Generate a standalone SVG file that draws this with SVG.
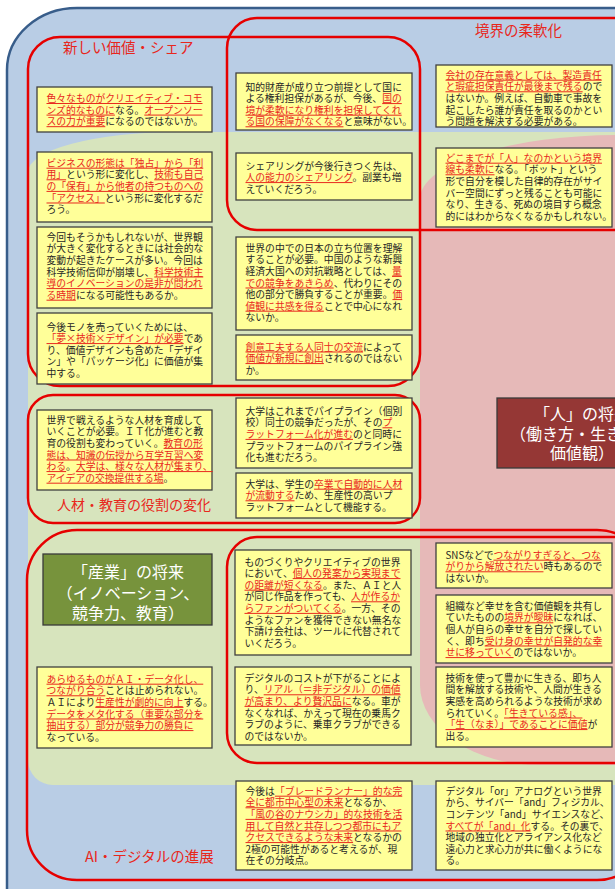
<svg xmlns="http://www.w3.org/2000/svg" width="615" height="889" viewBox="0 0 615 889">
<style>
.bx{fill:#ffff99;stroke:#404040;stroke-width:1.3}
.t{font-family:"Noto Sans CJK JP","Noto Sans CJK SC",sans-serif;font-size:9.8px;fill:#262626}
.r{fill:#e8271c;text-decoration:underline}
.rb{fill:none;stroke:#e60000;stroke-width:2.5}
.lb{font-family:"Noto Sans CJK JP","Noto Sans CJK SC",sans-serif;font-size:14.5px;fill:#e8271c}
.tt{font-family:"Noto Sans CJK JP","Noto Sans CJK SC",sans-serif;font-size:16px;fill:#ffffff;text-anchor:middle}
.tb{stroke:#3a3a3a;stroke-width:1.3}
</style>
<rect width="615" height="889" fill="#ffffff"/>
<g id="background">
<path d="M7 900V70A70 62 0 0 1 77 8H640V900Z" fill="#b9cde5" stroke="#385d8a" stroke-width="2.5"/>
<path d="M28 172A150 40 0 0 1 178 132H640V785H53A25 25 0 0 1 28 760Z" fill="#d7e4bd"/>
<path d="M420 199A200 64 0 0 1 620 135H640V765H540A120 80 0 0 1 420 685Z" fill="#e6b9b8"/>
</g>
<g id="groups">
<rect class="rb" x="28" y="37" width="392" height="349" rx="32"/>
<rect class="rb" x="227" y="18" width="420" height="212" rx="30"/>
<rect class="rb" x="28" y="395" width="392" height="128" rx="25"/>
<rect class="rb" x="27" y="530" width="620" height="350" rx="50"/>
<rect class="rb" x="227" y="537" width="420" height="226" rx="30"/>
<text class="lb" x="63" y="53">新しい価値・シェア</text>
<text class="lb" x="475" y="36">境界の柔軟化</text>
<text class="lb" x="57" y="510" style="font-size:14px">人材・教育の役割の変化</text>
<text class="lb" x="85" y="862">AI・デジタルの進展</text>
</g>
<g id="connectors"></g>
<g id="title-industry">
<rect class="tb" x="43" y="554" width="169" height="71" fill="#77933c"/>
<text class="tt"><tspan x="128" y="578">「産業」の将来</tspan><tspan x="128" y="599">（イノベーション、</tspan><tspan x="128" y="619">競争力、教育）</tspan></text>
</g>
<g id="title-people">
<rect class="tb" x="497" y="398" width="200" height="70" fill="#953735"/>
<text class="tt"><tspan x="582" y="420">「人」の将来</tspan><tspan x="582" y="440">（働き方・生き方、</tspan><tspan x="582" y="459">価値観）</tspan></text>
</g>
<g id="b1">
<rect class="bx" x="37" y="87" width="175" height="45"/>
<text class="t"><tspan x="46.5" y="102"><tspan class="r">色々なものがクリエイティブ・コモ</tspan></tspan><tspan x="46.5" y="113.6"><tspan class="r">ンズ的なものに</tspan>なる。<tspan class="r">オープンソー</tspan></tspan><tspan x="46.5" y="125.2"><tspan class="r">スの力が重要</tspan>になるのではないか。</tspan></text>
</g>
<g id="b2">
<rect class="bx" x="37" y="152" width="175" height="70"/>
<text class="t"><tspan x="46.5" y="166.7"><tspan class="r">ビジネスの形態は「独占」から「利</tspan></tspan><tspan x="46.5" y="178.3"><tspan class="r">用」</tspan>という形に変化し、<tspan class="r">技術も自己</tspan></tspan><tspan x="46.5" y="189.9"><tspan class="r">の「保有」から他者の持つものへの</tspan></tspan><tspan x="46.5" y="201.5"><tspan class="r">「アクセス」</tspan>という形に変化するだ</tspan><tspan x="46.5" y="213.1">ろう。</tspan></text>
</g>
<g id="b3">
<rect class="bx" x="37" y="227" width="175" height="81"/>
<text class="t"><tspan x="46.5" y="240.7">今回もそうかもしれないが、世界観</tspan><tspan x="46.5" y="252.3">が大きく変化するときには社会的な</tspan><tspan x="46.5" y="263.9">変動が起きたケースが多い。今回は</tspan><tspan x="46.5" y="275.5">科学技術信仰が崩壊し、<tspan class="r">科学技術主</tspan></tspan><tspan x="46.5" y="287.1"><tspan class="r">導のイノベーションの是非が問われ</tspan></tspan><tspan x="46.5" y="298.7"><tspan class="r">る時期</tspan>になる可能性もあるか。</tspan></text>
</g>
<g id="b4">
<rect class="bx" x="37" y="313" width="175" height="71"/>
<text class="t"><tspan x="46.5" y="330.5">今後モノを売っていくためには、</tspan><tspan x="46.5" y="342.1"><tspan class="r">「夢×技術×デザイン」が必要</tspan>であ</tspan><tspan x="46.5" y="353.7">り、価値デザインも含めた「デザイ</tspan><tspan x="46.5" y="365.3">ン」や「パッケージ化」に価値が集</tspan><tspan x="46.5" y="376.9">中する。</tspan></text>
</g>
<g id="b5">
<rect class="bx" x="236" y="73" width="176" height="57"/>
<text class="t"><tspan x="245.5" y="90.5">知的財産が成り立つ前提として国に</tspan><tspan x="245.5" y="102.1">よる権利担保があるが、今後、<tspan class="r">国の</tspan></tspan><tspan x="245.5" y="113.7"><tspan class="r">境が柔軟になり権利を担保してくれ</tspan></tspan><tspan x="245.5" y="125.3"><tspan class="r">る国の保障がなくなる</tspan>と意味がない。</tspan></text>
</g>
<g id="b6">
<rect class="bx" x="236" y="153" width="176" height="47"/>
<text class="t"><tspan x="245.5" y="169.5">シェアリングが今後行きつく先は、</tspan><tspan x="245.5" y="181.1"><tspan class="r">人の能力のシェアリング</tspan>。副業も増</tspan><tspan x="245.5" y="192.7">えていくだろう。</tspan></text>
</g>
<g id="b7">
<rect class="bx" x="236" y="237" width="176" height="93"/>
<text class="t"><tspan x="245.5" y="251.7">世界の中での日本の立ち位置を理解</tspan><tspan x="245.5" y="263.3">することが必要。中国のような新興</tspan><tspan x="245.5" y="274.9">経済大国への対抗戦略としては、<tspan class="r">量</tspan></tspan><tspan x="245.5" y="286.5"><tspan class="r">での競争をあきらめ</tspan>、代わりにその</tspan><tspan x="245.5" y="298.1">他の部分で勝負することが重要。<tspan class="r">価</tspan></tspan><tspan x="245.5" y="309.7"><tspan class="r">値観に共感を得る</tspan>ことで中心になれ</tspan><tspan x="245.5" y="321.3">ないか。</tspan></text>
</g>
<g id="b8">
<rect class="bx" x="236" y="335" width="176" height="45"/>
<text class="t"><tspan x="245.5" y="350.5"><tspan class="r">創意工夫する人同士の交流</tspan>によって</tspan><tspan x="245.5" y="362.1"><tspan class="r">価値が新規に創出</tspan>されるのではない</tspan><tspan x="245.5" y="373.7">か。</tspan></text>
</g>
<g id="b9">
<rect class="bx" x="436" y="65" width="176" height="62"/>
<text class="t"><tspan x="445.5" y="78.7"><tspan class="r">会社の存在意義としては、製造責任</tspan></tspan><tspan x="445.5" y="90.3"><tspan class="r">と瑕疵担保責任が最後まで残る</tspan>ので</tspan><tspan x="445.5" y="101.9">はないか。例えば、自動車で事故を</tspan><tspan x="445.5" y="113.5">起こしたら誰が責任を取るのかとい</tspan><tspan x="445.5" y="125.1">う問題を解決する必要がある。</tspan></text>
</g>
<g id="b10">
<rect class="bx" x="436" y="148" width="176" height="79"/>
<text class="t"><tspan x="445.5" y="161.7"><tspan class="r">どこまでが「人」なのかという境界</tspan></tspan><tspan x="445.5" y="173.3"><tspan class="r">線も柔軟に</tspan>なる。「ボット」という</tspan><tspan x="445.5" y="184.9">形で自分を模した自律的存在がサイ</tspan><tspan x="445.5" y="196.5">バー空間にずっと残ることも可能に</tspan><tspan x="445.5" y="208.1">なり、生きる、死ぬの境目すら概念</tspan><tspan x="445.5" y="219.7">的にはわからなくなるかもしれない。</tspan></text>
</g>
<g id="b11">
<rect class="bx" x="37" y="410" width="175" height="80"/>
<text class="t"><tspan x="46.5" y="423.7">世界で戦えるような人材を育成して</tspan><tspan x="46.5" y="435.3">いくことが必要。ＩＴ化が進むと教</tspan><tspan x="46.5" y="446.9">育の役割も変わっていく。<tspan class="r">教育の形</tspan></tspan><tspan x="46.5" y="458.5"><tspan class="r">態は、知識の伝授から互学互習へ変</tspan></tspan><tspan x="46.5" y="470.1"><tspan class="r">わる</tspan>。<tspan class="r">大学は、様々な人材が集まり、</tspan></tspan><tspan x="46.5" y="481.7"><tspan class="r">アイデアの交換提供する場</tspan>。</tspan></text>
</g>
<g id="b12">
<rect class="bx" x="236" y="398" width="176" height="70"/>
<text class="t"><tspan x="245.5" y="414.7">大学はこれまでパイプライン（個別</tspan><tspan x="245.5" y="426.3">校）同士の競争だったが、その<tspan class="r">プ</tspan></tspan><tspan x="245.5" y="437.9"><tspan class="r">ラットフォーム化が進む</tspan>のと同時に</tspan><tspan x="245.5" y="449.5">プラットフォームのパイプライン強</tspan><tspan x="245.5" y="461.1">化も進むだろう。</tspan></text>
</g>
<g id="b13">
<rect class="bx" x="236" y="473" width="176" height="45"/>
<text class="t"><tspan x="245.5" y="487.7">大学は、学生の<tspan class="r">卒業で自動的に人材</tspan></tspan><tspan x="245.5" y="499.3"><tspan class="r">が流動する</tspan>ため、生産性の高いプ</tspan><tspan x="245.5" y="510.9">ラットフォームとして機能する。</tspan></text>
</g>
<g id="b14">
<rect class="bx" x="37" y="667" width="175" height="81"/>
<text class="t"><tspan x="46.5" y="682.7"><tspan class="r">あらゆるものがＡＩ・データ化し、</tspan></tspan><tspan x="46.5" y="694.3"><tspan class="r">つながり合う</tspan>ことは止められない。</tspan><tspan x="46.5" y="705.9">ＡＩにより<tspan class="r">生産性が劇的に向上</tspan>する。</tspan><tspan x="46.5" y="717.5"><tspan class="r">データをメタ化する（重要な部分を</tspan></tspan><tspan x="46.5" y="729.1"><tspan class="r">抽出する）部分が競争力の勝負に</tspan></tspan><tspan x="46.5" y="740.7">なっている。</tspan></text>
</g>
<g id="b15">
<rect class="bx" x="235" y="550" width="176" height="105"/>
<text class="t"><tspan x="244.5" y="565.5">ものづくりやクリエイティブの世界</tspan><tspan x="244.5" y="577.1">において、<tspan class="r">個人の発案から実現まで</tspan></tspan><tspan x="244.5" y="588.7"><tspan class="r">の距離が短くなる</tspan>。また、ＡＩと人</tspan><tspan x="244.5" y="600.3">が同じ作品を作っても、<tspan class="r">人が作るか</tspan></tspan><tspan x="244.5" y="611.9"><tspan class="r">らファンがついてくる</tspan>。一方、その</tspan><tspan x="244.5" y="623.5">ようなファンを獲得できない無名な</tspan><tspan x="244.5" y="635.1">下請け会社は、ツールに代替されて</tspan><tspan x="244.5" y="646.7">いくだろう。</tspan></text>
</g>
<g id="b16">
<rect class="bx" x="235" y="667" width="176" height="78"/>
<text class="t"><tspan x="244.5" y="681.7">デジタルのコストが下がることによ</tspan><tspan x="244.5" y="693.3">り、<tspan class="r">リアル（＝非デジタル）の価値</tspan></tspan><tspan x="244.5" y="704.9"><tspan class="r">が高まり、より贅沢品に</tspan>なる。車が</tspan><tspan x="244.5" y="716.5">なくなれば、かえって現在の乗馬ク</tspan><tspan x="244.5" y="728.1">ラブのように、乗車クラブができる</tspan><tspan x="244.5" y="739.7">のではないか。</tspan></text>
</g>
<g id="b17">
<rect class="bx" x="436" y="543" width="176" height="45"/>
<text class="t"><tspan x="445.5" y="558.7">SNSなどで<tspan class="r">つながりすぎると、つな</tspan></tspan><tspan x="445.5" y="570.3"><tspan class="r">がりから解放されたい</tspan>時もあるので</tspan><tspan x="445.5" y="581.9">はないか。</tspan></text>
</g>
<g id="b18">
<rect class="bx" x="436" y="595" width="176" height="68"/>
<text class="t"><tspan x="445.5" y="609.7">組織など幸せを含む価値観を共有し</tspan><tspan x="445.5" y="621.3">ていたものの<tspan class="r">境界が曖昧</tspan>になれば、</tspan><tspan x="445.5" y="632.9">個人が自らの幸せを自分で探してい</tspan><tspan x="445.5" y="644.5">く、即ち<tspan class="r">受け身の幸せが自発的な幸</tspan></tspan><tspan x="445.5" y="656.1"><tspan class="r">せに移っていく</tspan>のではないか。</tspan></text>
</g>
<g id="b19">
<rect class="bx" x="436" y="667" width="176" height="80"/>
<text class="t"><tspan x="445.5" y="681.7">技術を使って豊かに生きる、即ち人</tspan><tspan x="445.5" y="693.3">間を解放する技術や、人間が生きる</tspan><tspan x="445.5" y="704.9">実感を高められるような技術が求め</tspan><tspan x="445.5" y="716.5">られていく。<tspan class="r">「生きている感」、</tspan></tspan><tspan x="445.5" y="728.1"><tspan class="r">「生（なま）」であることに価値</tspan>が</tspan><tspan x="445.5" y="739.7">出る。</tspan></text>
</g>
<g id="b20">
<rect class="bx" x="236" y="781" width="176" height="89"/>
<text class="t"><tspan x="245.5" y="794.7">今後は<tspan class="r">「ブレードランナー」的な完</tspan></tspan><tspan x="245.5" y="806.3"><tspan class="r">全に都市中心型の未来</tspan>となるか、</tspan><tspan x="245.5" y="817.9"><tspan class="r">「風の谷のナウシカ」的な技術を活</tspan></tspan><tspan x="245.5" y="829.5"><tspan class="r">用して自然と共存しつつ都市にもア</tspan></tspan><tspan x="245.5" y="841.1"><tspan class="r">クセスできるような未来</tspan>となるかの</tspan><tspan x="245.5" y="852.7">2極の可能性があると考えるが、現</tspan><tspan x="245.5" y="864.3">在その分岐点。</tspan></text>
</g>
<g id="b21">
<rect class="bx" x="436" y="781" width="176" height="89"/>
<text class="t"><tspan x="445.5" y="794.7">デジタル「or」アナログという世界</tspan><tspan x="445.5" y="806.3">から、サイバー「and」フィジカル、</tspan><tspan x="445.5" y="817.9">コンテンツ「and」サイエンスなど、</tspan><tspan x="445.5" y="829.5"><tspan class="r">すべてが「and」化</tspan>する。その裏で、</tspan><tspan x="445.5" y="841.1">地域の独立化とアライアンス化など</tspan><tspan x="445.5" y="852.7">遠心力と求心力が共に働くようにな</tspan><tspan x="445.5" y="864.3">る。</tspan></text>
</g>
</svg>
